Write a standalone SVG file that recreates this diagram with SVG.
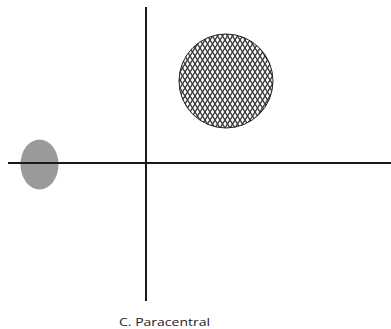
<svg xmlns="http://www.w3.org/2000/svg" width="391" height="329" viewBox="0 0 391 329">
<defs>
<pattern id="hatch" patternUnits="userSpaceOnUse" width="5" height="8">
<rect width="5" height="8" fill="#ffffff"/>
<path d="M0,0 L5,8 M-5,0 L0,8 M5,0 L10,8" stroke="#3a3a3a" stroke-width="1.4"/>
<path d="M5,0 L0,8 M0,0 L-5,8 M10,0 L5,8" stroke="#3a3a3a" stroke-width="1.4"/>
</pattern>
<style>
.axis{stroke:#1a1a1a;stroke-width:2;fill:none}
.lbl{font-family:"Open Sans","Liberation Sans",sans-serif;font-size:11px;fill:#222}
</style>
</defs>
<rect width="391" height="329" fill="#ffffff"/>
<g id="spot">
<ellipse cx="39.5" cy="164.5" rx="19" ry="25" fill="#9a9a9a"/>
</g>
<g id="connectors">
<line class="axis" x1="146" y1="7" x2="146" y2="301"/>
<line class="axis" x1="8" y1="163" x2="391" y2="163"/>
</g>
<g id="field">
<circle cx="226" cy="81" r="47" fill="url(#hatch)" stroke="#222" stroke-width="1"/>
</g>
<g id="label">
<text class="lbl" x="119" y="326" textLength="91" lengthAdjust="spacingAndGlyphs">C. Paracentral</text>
</g>
</svg>
